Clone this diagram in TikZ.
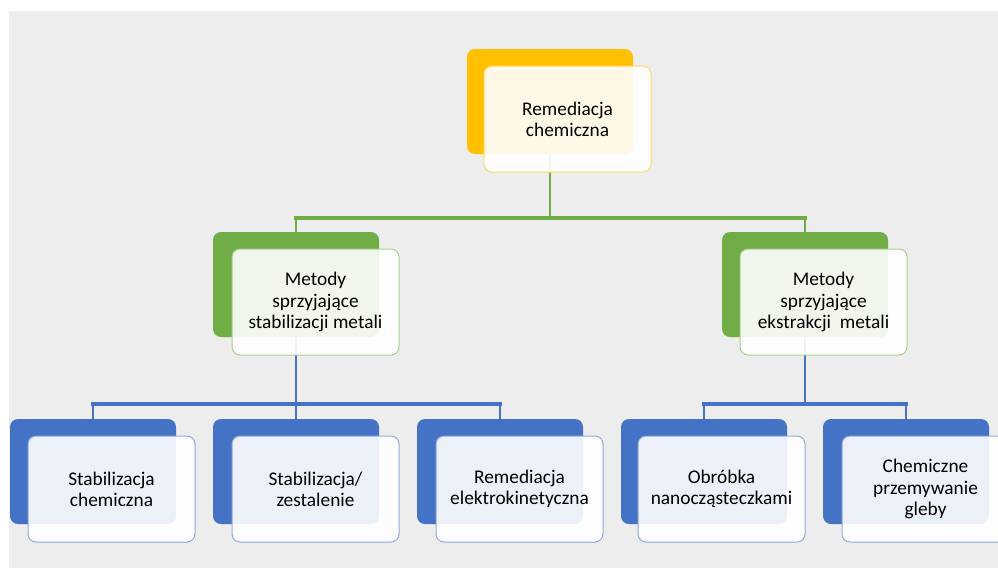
\documentclass[tikz,border=0pt]{standalone}
\usepackage{fontspec}
\setmainfont{Carlito}
\definecolor{bgcol}{HTML}{EDEDED}
\definecolor{orng}{HTML}{FFC000}
\definecolor{orngl}{HTML}{FFD966}
\definecolor{grn}{HTML}{70AD47}
\definecolor{grnl}{HTML}{A9D18E}
\definecolor{blu}{HTML}{4472C4}
\definecolor{blul}{HTML}{8FAADC}
\tikzset{
  backbox/.style={rectangle, rounded corners=6pt, minimum width=124.5pt, minimum height=78.75pt,
    anchor=north west, inner sep=0pt, outer sep=0pt},
  frontbox/.style={rectangle, rounded corners=6pt, draw, line width=0.75pt, fill=white,
    fill opacity=0.9, text opacity=1, minimum width=125.25pt, minimum height=79.5pt,
    anchor=north west, inner sep=0pt, outer sep=0pt, align=center, text=black,
    font=\fontsize{14.5}{15.8}\selectfont},
  gthin/.style={draw=grn, line width=1pt},
  gthick/.style={draw=grn, line width=3.2pt, line cap=rect},
  bthin/.style={draw=blu, line width=1pt},
  bthick/.style={draw=blu, line width=3.2pt, line cap=rect},
}
\begin{document}
\begin{tikzpicture}[x=0.75pt, y=-0.75pt]
\useasboundingbox (0,0) rectangle (998,568);
\clip (0,0) rectangle (998,568);
\fill[white] (0,0) rectangle (998,568);
\fill[bgcol] (9,11) rectangle (998,568);

% back boxes
\node[backbox, fill=orng] (rootb) at (467,49) {};
\node[backbox, fill=grn] (gLb) at (213,232) {};
\node[backbox, fill=grn] (gRb) at (722,232) {};
\node[backbox, fill=blu] (b1b) at (10,419) {};
\node[backbox, fill=blu] (b2b) at (213,419) {};
\node[backbox, fill=blu] (b3b) at (417,419) {};
\node[backbox, fill=blu] (b4b) at (621,419) {};
\node[backbox, fill=blu] (b5b) at (823,419) {};

% connectors
\coordinate (gbar) at (0,218);
\coordinate (bbar) at (0,404);
\draw[gthin] (rootb.south) -- (rootb.south |- gbar);
\draw[gthin] (gLb.north) -- (gLb.north |- gbar);
\draw[gthin] (gRb.north) -- (gRb.north |- gbar);
\draw[gthick] (gLb.north |- gbar) -- (gRb.north |- gbar);

\draw[bthin] (gLb.south) -- (gLb.south |- bbar);
\draw[bthin] (b1b.north) -- (b1b.north |- bbar);
\draw[bthin] (b2b.north) -- (b2b.north |- bbar);
\draw[bthin] (b3b.north) -- (b3b.north |- bbar);
\draw[bthick] (b1b.north |- bbar) -- (b3b.north |- bbar);

\draw[bthin] (gRb.south) -- (gRb.south |- bbar);
\draw[bthin] (b4b.north) -- (b4b.north |- bbar);
\draw[bthin] (b5b.north) -- (b5b.north |- bbar);
\draw[bthick] (b4b.north |- bbar) -- (b5b.north |- bbar);

% front boxes
\node[frontbox, draw=orngl] (rootf) at (484,66) {Remediacja\\chemiczna};
\node[frontbox, draw=grnl] (gLf) at (232,249) {Metody\\sprzyjające\\stabilizacji metali};
\node[frontbox, draw=grnl] (gRf) at (740,249) {Metody\\sprzyjające\\ekstrakcji\ \ metali};
\node[frontbox, draw=blul] (b1f) at (28,436) {Stabilizacja\\chemiczna};
\node[frontbox, draw=blul] (b2f) at (232,436) {Stabilizacja/\\zestalenie};
\node[frontbox, draw=blul] (b3f) at (436,436) {Remediacja\\elektrokinetyczna};
\node[frontbox, draw=blul] (b4f) at (638,436) {Obróbka\\nanocząsteczkami};
\node[frontbox, draw=blul] (b5f) at (842,436) {Chemiczne\\przemywanie\\gleby};
\end{tikzpicture}
\end{document}
